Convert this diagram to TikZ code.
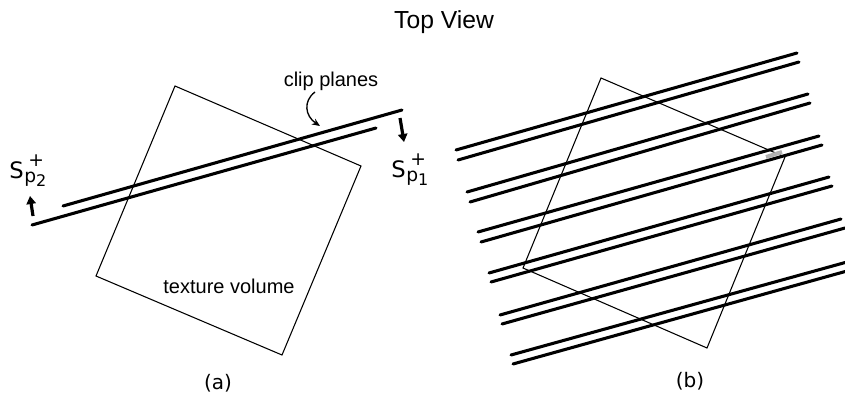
\documentclass[tikz,border=0pt]{standalone}
\usepackage{fontspec}
\setmainfont{Liberation Sans}
\newfontfamily\verd{DejaVu Sans}
\usetikzlibrary{arrows.meta}
\newcommand{\splabel}[1]{S\kern0.5pt\rlap{\raisebox{8.5pt}{\kern3pt\fontsize{14}{14}\selectfont +}}\raisebox{-3.5pt}{\fontsize{14}{14}\selectfont p\raisebox{-3pt}{\fontsize{12}{12}\selectfont #1}}}
\begin{document}
\begin{tikzpicture}[x=0.75pt,y=-0.75pt,
  plane/.style={line width=2.3pt, line cap=round},
  vol/.style={line width=0.8pt, line join=miter},
  bigarrow/.style={line width=2.4pt, -{Triangle[length=6pt,width=7pt]}},
  lbl/.style={inner sep=0pt, font=\fontsize{15}{18}\selectfont},
  sublbl/.style={inner sep=0pt, font=\verd\fontsize{17}{20}\selectfont}]
\useasboundingbox (0,0) rectangle (845,396);
% title
\node[inner sep=0pt, anchor=base, font=\fontsize{18.5}{22}\selectfont] (title) at (444,28) {Top View};
% (a) texture volume
\draw[vol] (175,86) -- (361,166) -- (282,355) -- (96,276) -- cycle;
% clip planes (a)
\coordinate (u1) at (63,206); \coordinate (u2) at (402,110);
\coordinate (l1) at (32,225); \coordinate (l2) at (376,128);
\draw[plane] (u1) -- (u2);
\draw[plane] (l1) -- (l2);
\node[lbl, anchor=base] (clip) at (331,86) {clip planes};
\coordinate (ctip) at (320,126);
\draw[line width=1pt, -{Stealth[length=6pt,width=5pt]}] (315,92) .. controls (303,101) and (305,116) .. (ctip);
\node[lbl, anchor=base] (tv) at (229,293) {texture volume};
% S labels
\node[sublbl, anchor=base west] (sp2) at (9,178) {\splabel{2}};
\node[sublbl, anchor=base west] (sp1) at (391,177) {\splabel{1}};
\coordinate (a2s) at (33,216); \coordinate (a2e) at (30,196);
\draw[bigarrow] (a2s) -- (a2e);
\coordinate (a1s) at (400,118); \coordinate (a1e) at (404,142);
\draw[bigarrow] (a1s) -- (a1e);
\node[inner sep=0pt, anchor=base, font=\verd\fontsize{15}{18}\selectfont] (la) at (218,389) {(a)};
% (b) texture volume
\draw[vol] (601,78) -- (785,157) -- (707,348) -- (523,268) -- cycle;
% clip plane pairs (b)
\foreach \a/\b/\c/\d in {456/150/797/53, 458/160/799/62,
  467/192/808/94, 470/202/810/103,
  478/232/819/136, 481/242/822/145,
  489/273/829/177, 491/282/832/186,
  500/315/841/219, 502/324/845/228,
  511/355/847/262, 513/364/847/271}
  \draw[plane] (\a,\b) -- (\c,\d);
\draw[gray!60, line width=3pt] (766,157) -- (782,152);
\node[inner sep=0pt, anchor=base, font=\verd\fontsize{15}{18}\selectfont] (lb) at (690,387) {(b)};
\end{tikzpicture}
\end{document}
